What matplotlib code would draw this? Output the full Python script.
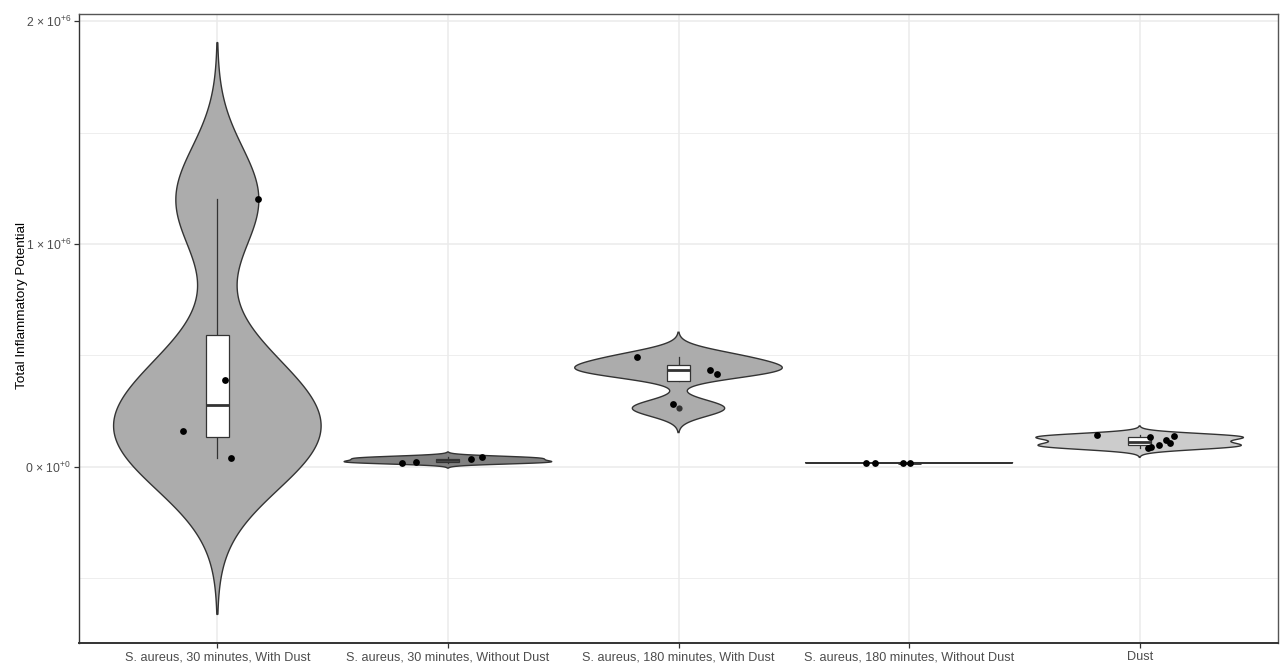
import numpy as np
import matplotlib
matplotlib.use("Agg")
import matplotlib.pyplot as plt
from matplotlib.patches import Rectangle

plt.rcParams['font.family'] = ['Liberation Sans', 'DejaVu Sans']
plt.rcParams['mathtext.fontset'] = 'custom'
plt.rcParams['mathtext.rm'] = 'Liberation Sans'
plt.rcParams['mathtext.it'] = 'Liberation Sans'
plt.rcParams['mathtext.bf'] = 'Liberation Sans'

categories = ["S. aureus, 30 minutes, With Dust",
              "S. aureus, 30 minutes, Without Dust",
              "S. aureus, 180 minutes, With Dust",
              "S. aureus, 180 minutes, Without Dust",
              "Dust"]

# values in millions
vals_sa30_dust = [0.040, 0.161, 0.389, 1.200]
jitx_sa30_dust = [0.061, -0.148, 0.035, 0.178]
vals_sa30_nodust = [0.0166, 0.022, 0.034, 0.042]
jitx_sa30_nodust = [-0.200, -0.139, 0.100, 0.148]
vals_sa180_dust = [0.262, 0.424, 0.442, 0.494]
jitx_sa180_dust = [-0.022, 0.165, 0.135, -0.178]
jity_sa180_dust = [0.019, -0.007, -0.009, -0.002]
vals_sa180_nodust = [0.0160, 0.0164, 0.0167, 0.0170]
jitx_sa180_nodust = [-0.187, -0.148, -0.026, 0.004]
vals_dust = [0.082, 0.089, 0.097, 0.104, 0.121, 0.131, 0.136, 0.142]
jitx_dust = [0.035, 0.048, 0.083, 0.130, 0.113, 0.043, 0.148, -0.187]

groups = [vals_sa30_dust, vals_sa30_nodust, vals_sa180_dust, vals_sa180_nodust, vals_dust]
jit_x = [jitx_sa30_dust, jitx_sa30_nodust, jitx_sa180_dust, jitx_sa180_nodust, jitx_dust]
jit_y = [None, None, jity_sa180_dust, None, None]
fills = ["#ACACAC", "#818181", "#ACACAC", "#333333", "#CCCCCC"]
SCALE = 1e6

LINE = "#333333"


def bw_nrd0(x):
    x = np.asarray(x)
    hi = np.std(x, ddof=1)
    q1, q3 = np.percentile(x, [25, 75])
    lo = min(hi, (q3 - q1) / 1.34)
    if lo == 0:
        lo = hi or abs(x[0]) or 1
    return 0.9 * lo * len(x) ** -0.2


fig = plt.figure(figsize=(12.8, 6.65), dpi=100)
ax = fig.add_axes([79 / 1280, 22 / 665, 1199 / 1280, 629 / 665])

ymins, ymaxs = [], []
for i, (vals, fc) in enumerate(zip(groups, fills)):
    pos = i + 1
    v = np.asarray(vals) * SCALE
    bw = bw_nrd0(v)
    grid = np.linspace(v.min() - 3 * bw, v.max() + 3 * bw, 512)
    dens = np.exp(-0.5 * ((grid[:, None] - v[None, :]) / bw) ** 2).sum(axis=1)
    w = dens / dens.max() * 0.45
    ymins.append(grid[0]); ymaxs.append(grid[-1])
    xs = np.concatenate([pos - w, (pos + w)[::-1]])
    ys = np.concatenate([grid, grid[::-1]])
    ax.fill(xs, ys, facecolor=fc, edgecolor=LINE, linewidth=1.0, zorder=3)

    # boxplot
    q1, med, q3 = np.percentile(v, [25, 50, 75])
    iqr = q3 - q1
    inside = v[(v >= q1 - 1.5 * iqr) & (v <= q3 + 1.5 * iqr)]
    outl = v[(v < q1 - 1.5 * iqr) | (v > q3 + 1.5 * iqr)]
    ax.plot([pos, pos], [q3, inside.max()], color=LINE, lw=0.9, zorder=4)
    ax.plot([pos, pos], [q1, inside.min()], color=LINE, lw=0.9, zorder=4)
    ax.add_patch(Rectangle((pos - 0.05, q1), 0.1, q3 - q1, facecolor="white",
                           edgecolor=LINE, linewidth=0.9, zorder=5))
    ax.plot([pos - 0.05, pos + 0.05], [med, med], color=LINE, lw=2.0, zorder=6,
            solid_capstyle='butt')
    if len(outl):
        ax.scatter(np.full(len(outl), pos), outl, s=20, color=LINE, zorder=6,
                   linewidths=0)

    # jittered points
    jy = np.zeros(len(v)) if jit_y[i] is None else np.asarray(jit_y[i]) * SCALE
    ax.scatter(pos + np.asarray(jit_x[i]), v + jy, s=24, color="black", zorder=7,
               linewidths=0)

lo, hi = min(ymins), max(ymaxs)
pad = 0.05 * (hi - lo)
ax.set_ylim(lo - pad, hi + pad)
ax.set_xlim(0.4, 5.6)

ax.set_xticks(range(1, 6))
ax.set_xticklabels(categories)
ax.set_yticks([0, 1e6, 2e6])
ax.set_yticklabels([r"0 × 10$^{+0}$", r"1 × 10$^{+6}$", r"2 × 10$^{+6}$"])
ax.set_yticks([-0.5e6, 0.5e6, 1.5e6], minor=True)
ax.grid(True, which='major', color="#EBEBEB", lw=1.1, zorder=0)
ax.grid(True, which='minor', axis='y', color="#EBEBEB", lw=0.6, zorder=0)
ax.set_axisbelow(True)
ax.tick_params(axis='both', which='major', length=3.5, width=0.9, color=LINE,
               labelsize=9.1, labelcolor="#4D4D4D", pad=2.5)
ax.tick_params(axis='y', which='major', labelsize=8.8, pad=2.0)
ax.tick_params(axis='y', which='minor', length=0)
for sp in ax.spines.values():
    sp.set_color("#555555")
    sp.set_linewidth(1.0)
ax.spines['left'].set_color(LINE)
ax.spines['bottom'].set_color(LINE)
ax.spines['bottom'].set_linewidth(1.4)
ax.set_ylabel("Total Inflammatory Potential", fontsize=9.7, color="black")
ax.yaxis.set_label_coords(-0.0425, 0.536)

fig.savefig("out.png", dpi=100)
